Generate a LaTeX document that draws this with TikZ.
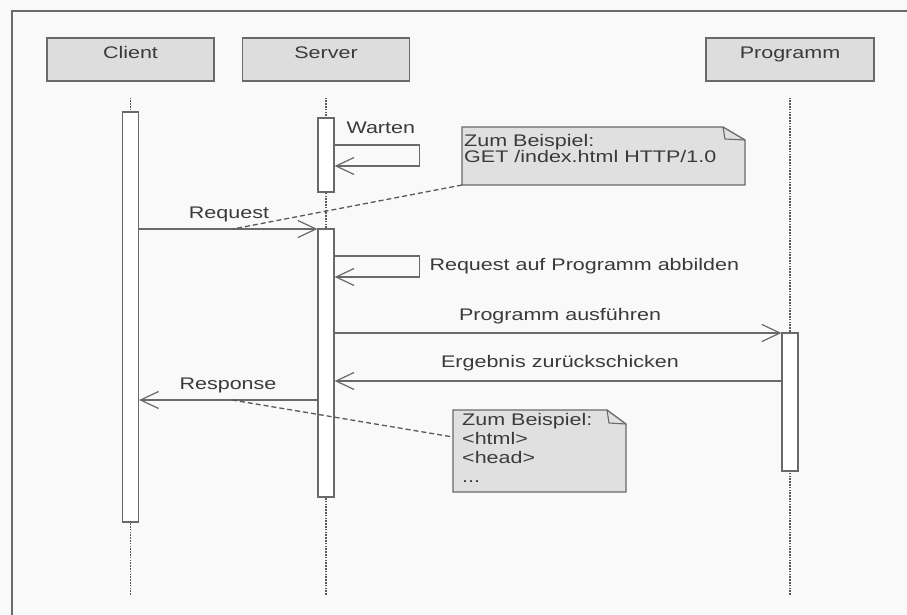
\documentclass[tikz,border=0pt]{standalone}
\usepackage{fontspec}
\setmainfont{Liberation Sans}[FakeStretch=1.28]
\usepackage{tikz}
\usetikzlibrary{arrows.meta, positioning, calc}
\definecolor{paperGray}{RGB}{249,249,249}
\definecolor{lineGray}{RGB}{105,105,105}
\definecolor{headGray}{RGB}{221,221,221}
\definecolor{noteGray}{RGB}{224,224,224}
\definecolor{textGray}{RGB}{58,58,58}

\tikzset{
  every node/.style={font=\fontsize{16.8}{19}\selectfont, text=textGray},
  head/.style={draw=lineGray, line width=1.3pt, fill=headGray, minimum width=167pt,
    text height=12pt, text depth=13pt, inner ysep=9pt, inner xsep=0pt},
  act/.style={draw=lineGray, line width=1.3pt, fill=white, minimum width=16pt, inner sep=0pt},
  life/.style={draw=lineGray!85!black, line width=1.4pt, dash pattern=on 1.6pt off 1.2pt},
  msg/.style={draw=lineGray, line width=1.3pt, -{Straight Barb[length=18pt, width=17pt, line width=1.2pt]}},
  memo/.style={draw=lineGray!85!black, line width=1.3pt, dash pattern=on 5pt off 3pt},
  notebox/.style={draw=lineGray, line width=1.3pt, fill=noteGray},
  notetext/.style={align=left, inner sep=0pt, anchor=base west},
}

\begin{document}
\begin{tikzpicture}[x=1pt, y=-1pt]
\useasboundingbox (0,0) rectangle (907,615);
\fill[paperGray] (0,0) rectangle (907,615);
\draw[lineGray, line width=1.4pt] (907,11) -- (12,11) -- (12,615);

% heads
\node[head] (client) at (130.5,59.5) {Client};
\node[head] (server) at (326,59.5) {Server};
\node[head, minimum width=168pt] (prog) at (790,59.5) {Programm};

% lifelines
\draw[life] ($(client.south)+(0,16)$) -- (client.south |- 0,596);
\draw[life] ($(server.south)+(0,16)$) -- (server.south |- 0,596);
\draw[life] ($(prog.south)+(0,16)$) -- (prog.south |- 0,596);

% activations
\node[act, minimum height=410pt] (cact) at (130.5,317) {};
\node[act, minimum height=74pt] (sact1) at (326,155) {};
\node[act, minimum height=268pt] (sact2) at (326,363) {};
\node[act, minimum height=138pt] (pact) at (790,402) {};

% Warten
\draw[msg] (sact1.east |- 0,145) -- ++(85,0) -- ++(0,21) -- (sact1.east |- 0,166);
\node[anchor=base west] (warten) at (343,133) {Warten};

% Request
\draw[msg] (cact.east |- 0,229) -- (sact2.west |- 0,229);
\node[anchor=base] (req) at (229,218) {Request};
\coordinate (reqpt) at (233,229);

% Request auf Programm abbilden
\draw[msg] (sact2.east |- 0,256) -- ++(85,0) -- ++(0,21) -- (sact2.east |- 0,277);
\node[anchor=base west] (map) at (426,270) {Request auf Programm abbilden};

% Programm ausfuehren / Ergebnis
\draw[msg] (sact2.east |- 0,333) -- (pact.west |- 0,333);
\node[anchor=base] (run) at (560,320) {Programm ausführen};
\draw[msg] (pact.west |- 0,381) -- (sact2.east |- 0,381);
\node[anchor=base] (result) at (560,367) {Ergebnis zurückschicken};

% Response
\draw[msg] (sact2.west |- 0,400) -- (cact.east |- 0,400);
\node[anchor=base] (resp) at (228,389) {Response};
\coordinate (resppt) at (232,400);

% note for the request
\draw[notebox] (462,127) -- (723,127) -- (745,140) -- (745,185) -- (462,185) -- cycle;
\draw[lineGray, line width=1.1pt] (723,127) -- (725,139) -- (745,140);
\coordinate (n1) at (462,185);
\node[notetext] (note1) at (464,162)
  {Zum Beispiel:\\[-3pt]GET /index.html HTTP/1.0};
\draw[memo] (n1) -- (reqpt);

% note for the response
\draw[notebox] (453,410) -- (607,410) -- (626,424) -- (626,492) -- (453,492) -- cycle;
\draw[lineGray, line width=1.1pt] (607,410) -- (609,423) -- (626,424);
\coordinate (n2) at (453,437);
\node[notetext] (note2) at (462,482)
  {Zum Beispiel:\\<html>\\<head>\\...};
\draw[memo] (resppt) -- (n2);
\end{tikzpicture}
\end{document}
